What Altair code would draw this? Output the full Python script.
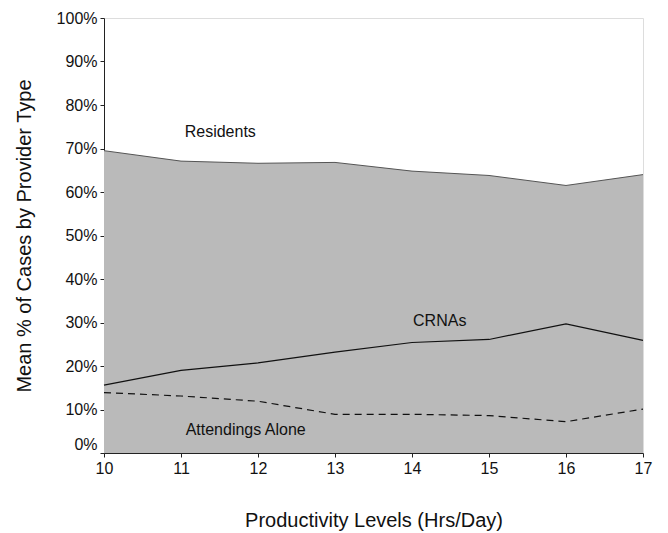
import altair as alt
import pandas as pd

hours = [10, 11, 12, 13, 14, 15, 16, 17]
residents_boundary = [69.5, 67.1, 66.6, 66.8, 64.8, 63.8, 61.5, 64.0]
crnas = [15.6, 19.0, 20.7, 23.2, 25.4, 26.1, 29.7, 25.9]
attendings = [13.9, 13.1, 11.9, 8.9, 8.9, 8.6, 7.2, 10.1]

label_text = ["Residents", "CRNAs", "Attendings Alone"]
label_x = [11.51, 14.36, 11.84]
label_y = [73.9, 30.3, 5.3]

df = pd.DataFrame({"hours": hours, "top": residents_boundary,
                   "crnas": crnas, "att": attendings})
lab = pd.DataFrame({"t": label_text, "x": label_x, "y": label_y})

FONT = "Liberation Sans"

x = alt.X("hours:Q", scale=alt.Scale(domain=[10, 17], nice=False),
          axis=alt.Axis(title="Productivity Levels (Hrs/Day)", values=hours,
                        format="d", grid=False, tickSize=4, labelFontSize=16,
                        labelFlush=False,
                        titleFontSize=20, titlePadding=34, labelPadding=3,
                        domainColor="#222", tickColor="#222",
                        labelColor="#111", titleColor="#111",
                        labelFont=FONT, titleFont=FONT, titleFontWeight="normal"))
y_scale = alt.Scale(domain=[0, 100], nice=False)

area = alt.Chart(df).mark_area(color="#bababa", opacity=1).encode(
    x=x,
    y=alt.Y("top:Q", scale=y_scale,
            axis=alt.Axis(title="Mean % of Cases by Provider Type",
                          values=list(range(0, 101, 10)),
                          labelExpr="datum.value + '%'", grid=False,
                          labelFlush=False,
                          labelOffset={"condition": {"test": "datum.value === 0", "value": -9}, "value": 0},
                          tickSize=4, labelFontSize=16, titleFontSize=20,
                          titlePadding=22, labelPadding=3,
                          domainColor="#222", tickColor="#222",
                          labelColor="#111", titleColor="#111",
                          labelFont=FONT, titleFont=FONT,
                          titleFontWeight="normal")),
    y2=alt.datum(0),
)

top_line = alt.Chart(df).mark_line(color="#555", strokeWidth=1).encode(
    x="hours:Q", y=alt.Y("top:Q", scale=y_scale))

crna_line = alt.Chart(df).mark_line(color="#111", strokeWidth=1.2).encode(
    x="hours:Q", y=alt.Y("crnas:Q", scale=y_scale))

att_line = alt.Chart(df).mark_line(color="#111", strokeWidth=1.2,
                                   strokeDash=[7, 5]).encode(
    x="hours:Q", y=alt.Y("att:Q", scale=y_scale))

labels = alt.Chart(lab).mark_text(font=FONT, fontSize=16, color="#111").encode(
    x="x:Q", y=alt.Y("y:Q", scale=y_scale), text="t:N")

chart = alt.layer(area, top_line, crna_line, att_line, labels).properties(
    width=539, height=435,
    autosize=alt.AutoSizeParams(type="none"),
    padding={"left": 96, "top": 10, "right": 10, "bottom": 80},
).configure_view(stroke="#888", strokeWidth=1).configure(background="white")

chart.save("out.html", embed_options={"renderer": "svg", "actions": False})
